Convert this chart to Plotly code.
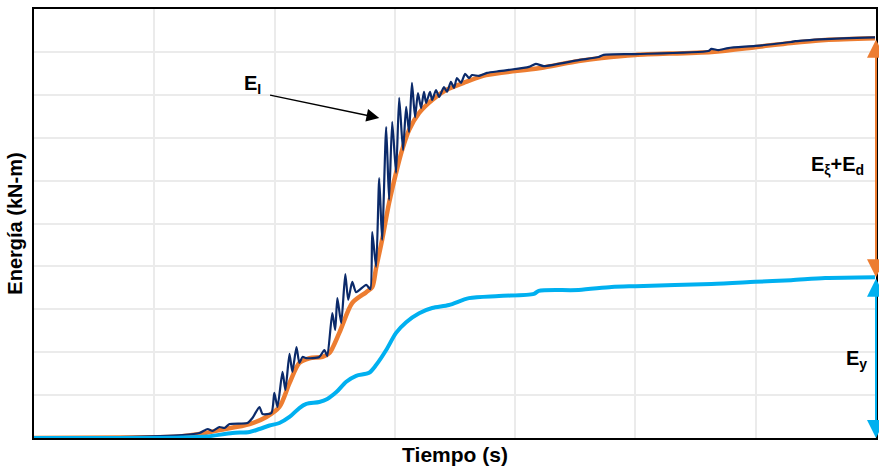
import plotly.graph_objects as go

# Time (s) and energy values
t_total = [0, 3.57, 6.05, 6.88, 7.71, 8.96, 9.66, 10.20, 10.62, 11.03, 11.45, 11.99, 12.28,
           12.69, 13.23, 13.81, 14.06, 14.22, 14.47, 14.76, 15.05, 15.30, 15.59, 16.01, 16.55,
           17.13, 17.96, 18.79, 20.98, 22.64, 23.60, 25.0, 28.16, 29.98, 31.47, 32.89, 34.96]
e_total = [0, 0.1, 0.35, 0.93, 1.86, 3.26, 4.90, 7.23, 12.8, 17.5, 18.6, 18.9, 19.8,
           24.5, 31.5, 34.0, 35.2, 39.6, 46.2, 54.8, 61.8, 67.1, 71.8, 75.8, 78.8,
           81.1, 83.0, 84.6, 86.2, 87.9, 88.6, 89.3, 90.0, 91.1, 92.1, 92.8, 93.2]

t_input = [0, 3.57, 6.18, 6.88, 7.22, 7.42, 7.71, 7.92, 8.13, 8.87, 9.08, 9.37, 9.50, 9.87,
           9.99, 10.12, 10.33, 10.45, 10.62, 10.74, 10.91, 11.03, 11.16, 11.32, 11.86, 12.07,
           12.19, 12.40, 12.52, 12.61, 12.77, 12.94, 13.06, 13.23, 13.39, 13.81, 13.98, 14.06,
           14.22, 14.35, 14.47, 14.64, 14.76, 14.89, 15.05, 15.18, 15.34, 15.47, 15.59, 15.71,
           15.84, 15.96, 16.09, 16.21, 16.30, 16.46, 16.55, 16.71, 16.84, 17.04, 17.17, 17.33,
           17.46, 17.58, 17.75, 17.92, 18.08, 18.21, 18.50, 18.83, 19.33, 19.74, 20.57, 20.86,
           21.19, 22.64, 23.47, 23.68, 25.01, 28.03, 28.16, 28.45, 28.86, 29.98, 31.47, 31.64,
           32.89, 34.96]
e_input = [0.1, 0.23, 0.70, 1.17, 2.10, 1.63, 2.56, 2.33, 3.26, 3.50, 4.66, 7.23, 5.59, 5.83,
           10.5, 7.23, 15.4, 11.2, 19.6, 15.4, 21.2, 17.5, 18.9, 18.6, 18.9, 20.5,
           19.1, 29.1, 25.2, 32.6, 26.8, 38.2, 32.2, 36.4, 34.0, 35.7, 34.7, 48.0,
           39.9, 60.6, 46.2, 72.5, 55.5, 73.7, 61.8, 79.3, 67.1, 77.2, 71.3, 82.8,
           74.8, 80.4, 76.9, 80.7, 78.1, 80.7, 78.8, 81.1, 79.5, 81.8, 80.7, 83.0,
           81.6, 83.9, 82.8, 84.9, 83.9, 84.6, 84.4, 85.1, 85.5, 85.8, 86.5, 87.2,
           86.7, 88.1, 88.8, 89.3, 89.5, 90.2, 90.7, 90.4, 90.9, 91.4, 92.3, 92.5,
           93.0, 93.4]

t_hyst = [0, 4.81, 6.18, 7.17, 8.25, 8.96, 9.37, 9.79, 10.20, 10.62, 11.03, 11.32, 11.86,
          12.19, 12.57, 12.98, 13.39, 13.93, 14.22, 14.64, 15.05, 15.47, 16.01, 16.55, 17.25,
          18.08, 19.33, 20.78, 20.98, 22.64, 24.01, 25.01, 28.16, 29.98, 31.47, 32.89, 34.96]
e_hyst = [0, 0, 0.1, 0.35, 1.17, 1.40, 2.10, 2.91, 3.50, 4.90, 6.99, 7.93, 8.39,
          9.09, 10.7, 13.1, 14.5, 15.2, 17.0, 20.5, 24.5, 27.0, 29.1, 30.3, 31.0,
          32.6, 33.1, 33.6, 34.3, 34.5, 35.2, 35.4, 35.9, 36.4, 36.8, 37.3, 37.5]

labels = {"input": "E<sub>I</sub>", "damp": "E<sub>ξ</sub>+E<sub>d</sub>", "hyst": "E<sub>y</sub>"}

ORANGE = "#ED7D31"
NAVY = "#0B2A6A"
BLUE = "#00B0F0"

fig = go.Figure()
fig.add_trace(go.Scatter(x=t_total, y=e_total, mode="lines",
                         line=dict(color=ORANGE, width=4.5, shape="spline", smoothing=0.8),
                         showlegend=False))
fig.add_trace(go.Scatter(x=t_input, y=e_input, mode="lines",
                         line=dict(color=NAVY, width=2.2, shape="spline", smoothing=0.6),
                         showlegend=False))
fig.add_trace(go.Scatter(x=t_hyst, y=e_hyst, mode="lines",
                         line=dict(color=BLUE, width=4, shape="spline", smoothing=0.8),
                         showlegend=False))

x_end = 35
top = e_total[-1]
mid = e_hyst[-1]

# double arrows at right edge
for (y0, y1, col) in [(top, mid, ORANGE), (mid, 0, BLUE)]:
    fig.add_annotation(x=x_end, y=y1, ax=x_end, ay=y0, xref="x", yref="y",
                       axref="x", ayref="y", showarrow=True, arrowhead=2,
                       arrowside="end+start", arrowsize=1.8, arrowwidth=2,
                       arrowcolor=col, text="")

font_lbl = dict(family="Liberation Sans, Arial", size=20, color="black")
fig.add_annotation(x=33.4, y=63.6, text="<b>" + labels["damp"] + "</b>", showarrow=False,
                   font=font_lbl)
fig.add_annotation(x=34.2, y=18.2, text="<b>" + labels["hyst"] + "</b>", showarrow=False,
                   font=font_lbl)
fig.add_annotation(x=9.1, y=82.3, text="<b>" + labels["input"] + "</b>", showarrow=False,
                   font=font_lbl)
fig.add_annotation(x=14.35, y=74.6, ax=9.75, ay=80.0, xref="x", yref="y", axref="x", ayref="y",
                   showarrow=True, arrowhead=2, arrowsize=1.7, arrowwidth=1.5,
                   arrowcolor="black", text="")

fig.update_layout(
    width=879, height=470,
    margin=dict(l=34, r=1, t=9, b=32),
    plot_bgcolor="white", paper_bgcolor="white",
    font=dict(family="Liberation Sans, Arial", color="black"),
    xaxis=dict(range=[0, 35], dtick=5, showticklabels=False, ticks="",
               showgrid=True, gridcolor="#EBEBEB", gridwidth=1.5, zeroline=False,
               showline=True, linecolor="black", linewidth=2, mirror=True,
               title=dict(text="<b>Tiempo (s)</b>", font=dict(size=21), standoff=8)),
    yaxis=dict(range=[0, 100], dtick=10, showticklabels=False, ticks="",
               showgrid=True, gridcolor="#EBEBEB", gridwidth=1.5, zeroline=False,
               showline=True, linecolor="black", linewidth=2, mirror=True,
               title=dict(text="<b>Energía (kN-m)</b>", font=dict(size=20), standoff=4)),
)

fig.write_html("out.html")
